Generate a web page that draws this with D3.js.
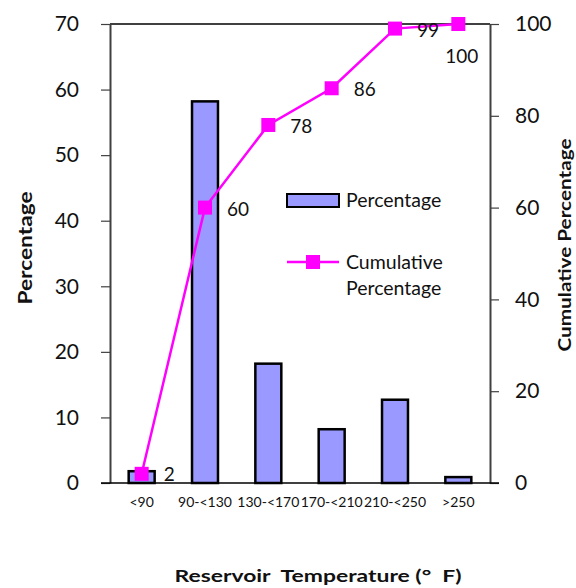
<!DOCTYPE html>
<html><head><meta charset="utf-8">
<script src="https://cdn.jsdelivr.net/npm/d3@7"></script>
<style>body{margin:0;background:#fff}svg{display:block}text{font-family:Lato,"Open Sans",sans-serif}</style>
</head><body><svg id="c" width="576" height="588"></svg>
<script>
const categories = ["<90","90-<130","130-<170","170-<210","210-<250",">250"];
const percentage = [1.8, 58.2, 18.2, 8.2, 12.7, 0.9];
const cumulative = [2, 60, 78, 86, 99, 100];
const leftTicks = [0,10,20,30,40,50,60,70];
const rightTicks = [0,20,40,60,80,100];

const svg = d3.select("#c");
const L=110, R=490, T=24, B=483;
const x = d3.scaleBand().domain(categories).range([L,R]).paddingInner(0.59).paddingOuter(0.295);
const yL = d3.scaleLinear().domain([0,70]).range([B,T]);
const yR = d3.scaleLinear().domain([0,100]).range([B,T]);
const cx = d => x(d)+x.bandwidth()/2;

svg.append("line").attr("x1",L).attr("x2",R).attr("y1",T).attr("y2",T).attr("stroke","#000").attr("stroke-width",1.5);

svg.selectAll("rect.bar").data(categories).join("rect").attr("class","bar")
  .attr("x",d=>x(d)).attr("width",x.bandwidth())
  .attr("y",(d,i)=>yL(percentage[i])).attr("height",(d,i)=>B-yL(percentage[i]))
  .attr("fill","#9999FF").attr("stroke","#000").attr("stroke-width",2.5);

const ax = svg.append("g").attr("transform",`translate(${L},0)`)
  .call(d3.axisLeft(yL).tickValues(leftTicks).tickSize(9).tickPadding(22).tickSizeOuter(0));
ax.select(".domain").attr("stroke","#404040").attr("stroke-width",2);
ax.selectAll(".tick line").attr("stroke","#404040").attr("stroke-width",1.2);
ax.selectAll("text").attr("font-size",21).attr("fill","#111").attr("font-family","Lato,'Open Sans',sans-serif");

const ar = svg.append("g").attr("transform",`translate(${R},0)`)
  .call(d3.axisRight(yR).tickValues(rightTicks).tickSize(9).tickPadding(16).tickSizeOuter(0));
ar.select(".domain").attr("stroke","#404040").attr("stroke-width",2);
ar.selectAll(".tick line").attr("stroke","#404040").attr("stroke-width",1.2);
ar.selectAll("text").attr("font-size",21).attr("fill","#111").attr("font-family","Lato,'Open Sans',sans-serif");

const axb = svg.append("g").attr("transform",`translate(0,${B})`)
  .call(d3.axisBottom(x).tickSize(0).tickPadding(14));
axb.select(".domain").attr("d",`M${L-9},0H${R+9}`).attr("stroke","#000").attr("stroke-width",1.5);
axb.selectAll("text").attr("font-size",14).attr("fill","#111").attr("font-family","Lato,'Open Sans',sans-serif");

const line = d3.line().x((d,i)=>cx(categories[i])).y(d=>yR(d));
svg.append("path").datum(cumulative).attr("d",line).attr("fill","none").attr("stroke","#FF00FF").attr("stroke-width",2.5);
svg.selectAll("rect.mk").data(cumulative).join("rect").attr("class","mk")
  .attr("x",(d,i)=>cx(categories[i])-7).attr("y",d=>yR(d)-7).attr("width",14).attr("height",14).attr("fill","#FF00FF");

svg.selectAll("text.lbl").data(cumulative).join("text").attr("class","lbl")
  .attr("x",(d,i)=> i===cumulative.length-1 ? cx(categories[i])-13 : cx(categories[i])+22)
  .attr("y",(d,i)=> i===cumulative.length-1 ? yR(d)+39 : yR(d)+8 + (i===0? -1:0))
  .attr("font-size",19).attr("fill","#111").text(d=>d);

const lg = svg.append("g");
lg.append("rect").attr("x",287).attr("y",194).attr("width",52).attr("height",13).attr("fill","#9999FF").attr("stroke","#000").attr("stroke-width",2);
lg.append("text").attr("x",346).attr("y",207).attr("font-size",19.5).attr("fill","#111").text("Percentage");
lg.append("line").attr("x1",287).attr("x2",339).attr("y1",262).attr("y2",262).attr("stroke","#FF00FF").attr("stroke-width",2.5);
lg.append("rect").attr("x",306).attr("y",255).attr("width",14).attr("height",14).attr("fill","#FF00FF");
lg.append("text").attr("x",346).attr("y",269).attr("font-size",19.5).attr("fill","#111").text("Cumulative");
lg.append("text").attr("x",346).attr("y",295).attr("font-size",19.5).attr("fill","#111").text("Percentage");

const tf = "'Open Sans',Lato,sans-serif";
svg.append("text").attr("transform","translate(32,248) rotate(-90)").attr("text-anchor","middle")
  .attr("font-family",tf).attr("font-size",18).attr("font-weight","bold").attr("fill","#111")
  .attr("textLength",113).attr("lengthAdjust","spacingAndGlyphs").text("Percentage");
svg.append("text").attr("transform","translate(571,245) rotate(-90)").attr("text-anchor","middle")
  .attr("font-family",tf).attr("font-size",16.5).attr("font-weight","bold").attr("fill","#111")
  .attr("textLength",213).attr("lengthAdjust","spacingAndGlyphs").text("Cumulative Percentage");
svg.append("text").attr("x",318).attr("y",582).attr("text-anchor","middle")
  .attr("font-family",tf).attr("font-size",17).attr("font-weight","bold").attr("fill","#111")
  .attr("xml:space","preserve").attr("textLength",287).attr("lengthAdjust","spacingAndGlyphs")
  .text("Reservoir  Temperature (°  F)");
</script></body></html>
